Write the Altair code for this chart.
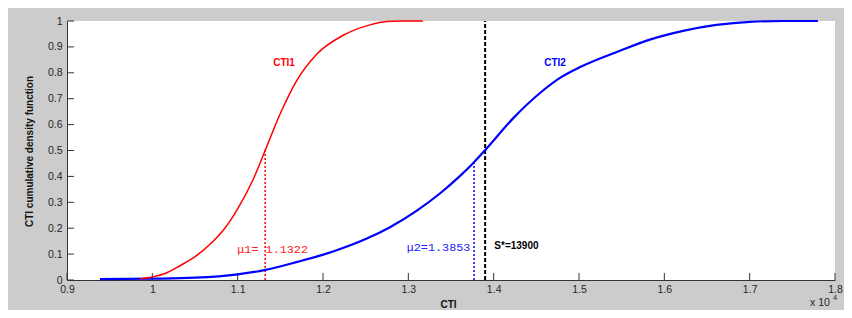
import altair as alt
import pandas as pd

# ---- data (x in units of 10^4) ----
cti1_x = [0.9855, 1.000, 1.015, 1.0324, 1.05, 1.0676, 1.085, 1.100, 1.1184, 1.1322,
          1.1496, 1.1692, 1.1926, 1.2238, 1.2551, 1.2746, 1.290, 1.317]
cti1_y = [0.005, 0.012, 0.025, 0.055, 0.090, 0.138, 0.200, 0.275, 0.390, 0.500,
          0.640, 0.770, 0.872, 0.945, 0.985, 0.998, 1.000, 1.000]

cti2_x = [0.9387, 1.000, 1.050, 1.100, 1.1313, 1.170, 1.210, 1.250, 1.2785, 1.310,
          1.337, 1.360, 1.3762, 1.391, 1.423, 1.4543, 1.480, 1.5012, 1.548, 1.583,
          1.622, 1.661, 1.700, 1.740, 1.780]
cti2_y = [0.003, 0.005, 0.009, 0.022, 0.038, 0.070, 0.108, 0.158, 0.204, 0.268,
          0.334, 0.400, 0.452, 0.505, 0.625, 0.722, 0.785, 0.822, 0.885, 0.928,
          0.962, 0.985, 0.997, 1.000, 1.000]

mu_lines_x = [1.1322, 1.377]
mu_lines_top = [0.505, 0.456]
mu_lines_color = ["red", "blue"]

s_star_x = 1.39

x_ticks = [0.9, 1.0, 1.1, 1.2, 1.3, 1.4, 1.5, 1.6, 1.7, 1.8]
y_ticks = [0, 0.1, 0.2, 0.3, 0.4, 0.5, 0.6, 0.7, 0.8, 0.9, 1.0]

series_labels = ["CTI1", "CTI2"]
series_label_x = [1.1543, 1.4719]
series_label_y = [0.838, 0.837]

mu_text = ["\u03bc1= 1.1322", "\u03bc2=1.3853"]
mu_text_x = [1.0995, 1.2981]
mu_text_y = [0.118, 0.126]

s_text = ["S*=13900"]
s_text_x = [1.4008]
s_text_y = [0.131]

exp_text = ["x 10", "4"]
exp_x = [1.7707, 1.7977]
exp_y = [-0.089, -0.069]
exp_size = [10.5, 7.5]

W, H = 768, 259

xaxis = alt.Axis(values=x_ticks, format="~g", tickSize=0, grid=False,
                 domainColor="#333333", domainWidth=1,
                 labelFont="Liberation Sans", labelFontSize=10.5, labelColor="#262626",
                 labelPadding=4, labelFlush=False,
                 title="CTI", titleFont="Liberation Sans", titleFontSize=10,
                 titleFontWeight="bold", titleColor="#111111",
                 titleX=381, titleY=24, titleBaseline="middle", titleAlign="center")
yaxis = alt.Axis(values=y_ticks, format="~g", tickSize=0, grid=False,
                 domainColor="#333333", domainWidth=1,
                 labelFont="Liberation Sans", labelFontSize=10.5, labelColor="#262626",
                 labelPadding=5, labelFlush=False,
                 title="CTI cumulative density function", titleFont="Liberation Sans",
                 titleFontSize=10, titleFontWeight="bold", titleColor="#111111",
                 titleX=-38, titleY=130, titleAngle=270, titleBaseline="middle",
                 titleAlign="center")

xs = alt.Scale(domain=[0.9, 1.8], nice=False, zero=False)
ys = alt.Scale(domain=[0, 1], nice=False, zero=False)


def X(f):
    return alt.X(f, type="quantitative", scale=xs, axis=xaxis)


def Y(f):
    return alt.Y(f, type="quantitative", scale=ys, axis=yaxis)


df1 = pd.DataFrame({"x": cti1_x, "y": cti1_y})
df2 = pd.DataFrame({"x": cti2_x, "y": cti2_y})

line1 = alt.Chart(df1).mark_line(color="#ff0000", strokeWidth=1.5,
                                 interpolate="monotone").encode(x=X("x"), y=Y("y"))
line2 = alt.Chart(df2).mark_line(color="#0000ff", strokeWidth=2.2,
                                 interpolate="monotone").encode(x=X("x"), y=Y("y"))

dfmu = pd.DataFrame({"x": mu_lines_x, "y0": [0, 0], "y1": mu_lines_top, "c": mu_lines_color})
mu_rules = alt.Chart(dfmu).mark_rule(strokeWidth=1.5, strokeDash=[2, 2]).encode(
    x=X("x"), y=Y("y0"), y2="y1",
    color=alt.Color("c:N", scale=None, legend=None))

dfs = pd.DataFrame({"x": [s_star_x], "y0": [0], "y1": [1]})
s_rule = alt.Chart(dfs).mark_rule(strokeWidth=2, strokeDash=[4, 2], color="black").encode(
    x=X("x"), y=Y("y0"), y2="y1")

dfl = pd.DataFrame({"x": series_label_x, "y": series_label_y, "t": series_labels,
                    "c": ["#ff0000", "#0000ff"]})
lab = alt.Chart(dfl).mark_text(font="Liberation Sans", fontSize=10, fontWeight="bold",
                               align="center", baseline="middle").encode(
    x=X("x"), y=Y("y"), text="t:N", color=alt.Color("c:N", scale=None, legend=None))

dfm = pd.DataFrame({"x": mu_text_x, "y": mu_text_y, "t": mu_text, "c": ["#ff2020", "#2020ff"]})
mut = alt.Chart(dfm).mark_text(font="Liberation Mono", fontSize=11.8, align="left",
                               baseline="middle").encode(
    x=X("x"), y=Y("y"), text="t:N", color=alt.Color("c:N", scale=None, legend=None))

dfst = pd.DataFrame({"x": s_text_x, "y": s_text_y, "t": s_text})
st = alt.Chart(dfst).mark_text(font="Liberation Sans", fontSize=10, fontWeight="bold",
                               align="left", baseline="middle", color="black").encode(
    x=X("x"), y=Y("y"), text="t:N")

dfexp = pd.DataFrame({"x": exp_x, "y": exp_y, "t": exp_text, "s": exp_size})
expt = alt.Chart(dfexp).mark_text(font="Liberation Sans", align="left", baseline="middle",
                                  color="#262626").encode(
    x=X("x"), y=Y("y"), text="t:N", size=alt.Size("s:Q", scale=None, legend=None))

dfxt = pd.DataFrame({"v": x_ticks})
xt = alt.Chart(dfxt).mark_rule(color="#333333", strokeWidth=1).encode(
    x=X("v"), y=alt.value(H), y2=alt.value(H - 7))
dfyt = pd.DataFrame({"v": y_ticks})
yt = alt.Chart(dfyt).mark_rule(color="#333333", strokeWidth=1).encode(
    y=Y("v"), x=alt.value(0), x2=alt.value(7))

chart = alt.layer(xt, yt, mu_rules, s_rule, line2, line1, lab, mut, st, expt).properties(
    width=W, height=H,
    autosize=alt.AutoSizeParams(type="none"),
    padding={"left": 59, "top": 13, "right": 9, "bottom": 30},
    background="#cccccc",
).configure_view(stroke=None, fill="white")

chart.save("out.html", embed_options={"renderer": "svg", "actions": False})
